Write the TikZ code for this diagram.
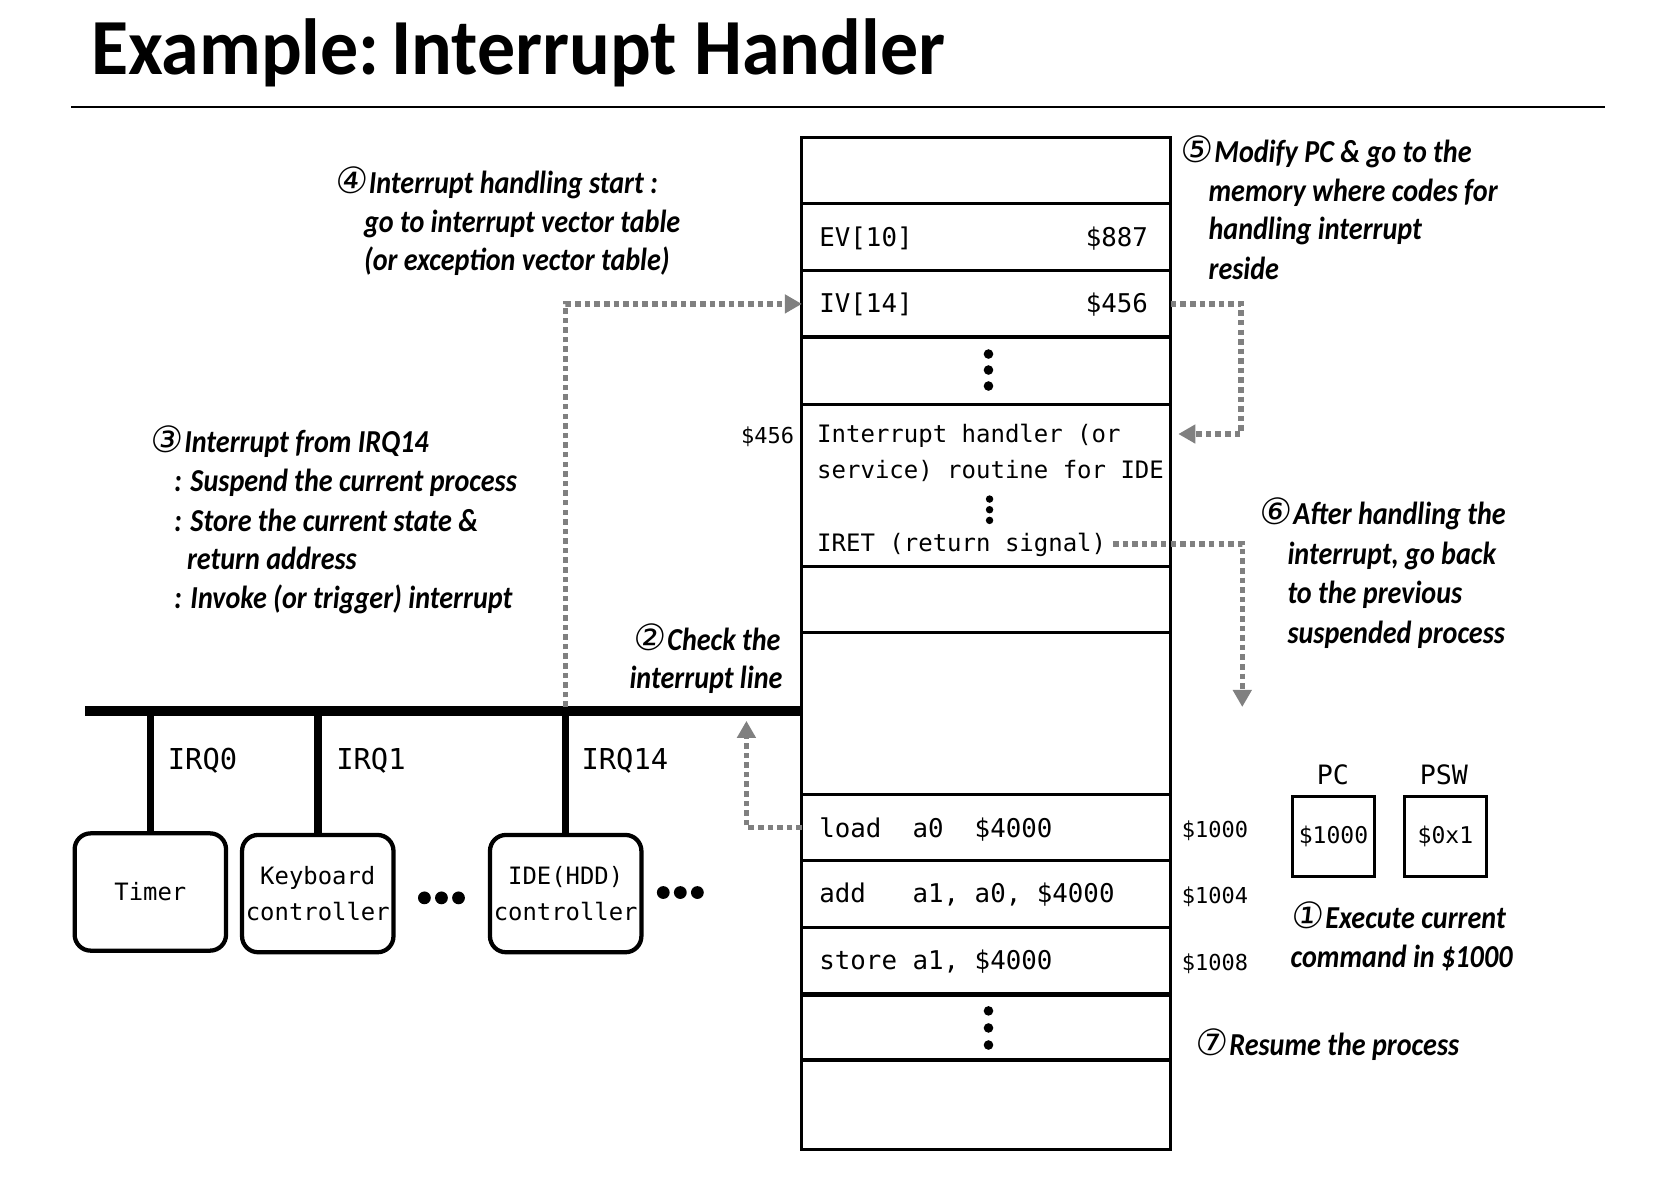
\documentclass[tikz,border=0pt]{standalone}
\usepackage{fontspec}
\usetikzlibrary{arrows.meta}
\setmainfont{Carlito}
\newfontfamily\annfont[FakeStretch=0.88]{Carlito}
\newfontfamily\titlefont[FakeStretch=0.955]{Carlito}
\newfontfamily\monofont{DejaVu Sans Mono}
\newfontfamily\circfont[FakeSlant=0.12]{DejaVu Sans}
\newcommand{\cn}[1]{{\circfont\mdseries\upshape\fontsize{17}{18}\selectfont #1}\kern1pt}
\definecolor{dgray}{RGB}{128,128,128}
\tikzset{
  ann/.style={font=\annfont\bfseries\itshape\fontsize{15}{18}\selectfont, anchor=base west, inner sep=0pt},
  memrow/.style={draw, line width=1.5pt, minimum width=173pt, anchor=north west, inner sep=0pt, outer sep=0pt},
  rowtxt/.style={font=\monofont\fontsize{12.1}{14}\selectfont, anchor=base west, inner sep=0pt},
  hdltxt/.style={font=\monofont\fontsize{11.25}{14}\selectfont, anchor=base west, inner sep=0pt},
  addr/.style={font=\monofont\fontsize{10.3}{12}\selectfont, inner sep=0pt},
  irq/.style={font=\monofont\fontsize{13.5}{16}\selectfont, anchor=base west, inner sep=0pt},
  dev/.style={draw, line width=2pt, rounded corners=7.5pt, minimum width=71pt, minimum height=55pt, inner sep=0pt, align=center, font=\monofont\fontsize{11.2}{17}\selectfont},
  reg/.style={draw, line width=1.5pt, minimum width=38.5pt, minimum height=37.5pt, inner sep=0pt, font=\monofont\fontsize{10.8}{12}\selectfont},
  bigdot/.style={circle, fill, minimum size=6pt, inner sep=0pt},
  vdot/.style={circle, fill, minimum size=4.5pt, inner sep=0pt},
  sdot/.style={circle, fill, minimum size=3.5pt, inner sep=0pt},
  flow/.style={draw=dgray, line width=2.6pt, dash pattern=on 2.6pt off 1.9pt, -{Triangle[length=8pt,width=8.5pt,fill=dgray]}},
  wire/.style={line width=3.5pt},
}
\begin{document}
\begin{tikzpicture}[x=0.5pt,y=-0.5pt]
\useasboundingbox (0,0) rectangle (1568,1116);
% title
\node[font=\titlefont\bfseries\fontsize{37.3}{40}\selectfont, anchor=base west, inner sep=0pt] (title) at (85,70) {Example:\kern-2.5pt\ Interrupt Handler};
\coordinate (ruleL) at (67,100);
\coordinate (ruleR) at (1505,100);
\draw[line width=1pt] (ruleL) -- (ruleR);

% memory
\node[memrow, minimum height=31pt] (m0) at (752,129) {};
\node[memrow, minimum height=31.5pt] (m1) at (752,191) {};
\node[memrow, minimum height=31pt] (m2) at (752,254) {};
\node[memrow, minimum height=31.5pt] (m3) at (752,316) {};
\node[memrow, minimum height=76pt] (m4) at (752,379) {};
\node[memrow, minimum height=31pt] (m5) at (752,531) {};
\node[memrow, minimum height=76pt] (m6) at (752,593) {};
\node[memrow, minimum height=31pt] (m7) at (752,745) {};
\node[memrow, minimum height=31.5pt] (m8) at (752,807) {};
\node[memrow, minimum height=31.5pt] (m9) at (752,870) {};
\node[memrow, minimum height=31pt] (m10) at (752,932) {};
\node[memrow, minimum height=42pt] (m11) at (752,994) {};

\node[rowtxt] (ev) at (768,231) {EV[10]};
\node[rowtxt, anchor=base east] (evv) at (1077,231) {\$887};
\node[rowtxt] (iv) at (768,293) {IV[14]};
\node[rowtxt, anchor=base east] (ivv) at (1077,293) {\$456};
\node[vdot] (d1) at (927,332) {};
\node[vdot] (d2) at (927,347) {};
\node[vdot] (d3) at (927,362) {};
\node[hdltxt] (h1) at (766,415) {Interrupt handler (or};
\node[hdltxt] (h2) at (766,449) {service) routine for IDE};
\node[sdot] (d4) at (928,468) {};
\node[sdot] (d5) at (928,478) {};
\node[sdot] (d6) at (928,488) {};
\node[hdltxt] (iret) at (766,517) {IRET (return signal)};
\node[rowtxt] (ld) at (768,785) {load\ \ a0\ \ \$4000};
\node[rowtxt] (ad) at (768,846) {add\ \ \ a1, a0, \$4000};
\node[rowtxt] (st) at (768,909) {store a1, \$4000};
\node[vdot] (d7) at (927,948) {};
\node[vdot] (d8) at (927,964) {};
\node[vdot] (d9) at (927,980) {};

\node[addr, anchor=base east] (a456) at (745,416) {\$456};
\node[addr, anchor=base west] (a1000) at (1108,785) {\$1000};
\node[addr, anchor=base west] (a1004) at (1108,847) {\$1004};
\node[addr, anchor=base west] (a1008) at (1108,910) {\$1008};

% bus and devices
\coordinate (busL) at (80,667);
\coordinate (busR) at (752,667);
\draw[line width=4.5pt] (busL) -- (busR);
\node[dev] (timer) at (141,836.5) {Timer};
\node[dev] (kbd) at (298,838) {Keyboard\\controller};
\node[dev] (ide) at (530.5,838) {IDE(HDD)\\controller};
\coordinate (t0) at (141,667);
\coordinate (t1) at (298,667);
\coordinate (t14) at (530.5,667);
\draw[wire] (t0) -- (timer.north);
\draw[wire] (t1) -- (kbd.north);
\draw[wire] (t14) -- (ide.north);
\node[irq] (irq0) at (157,722) {IRQ0};
\node[irq] (irq1) at (315,722) {IRQ1};
\node[irq] (irq14) at (545,722) {IRQ14};
\node[bigdot] (e1) at (398,842) {};
\node[bigdot] (e2) at (414,842) {};
\node[bigdot] (e3) at (430,842) {};
\node[bigdot] (e4) at (622,837) {};
\node[bigdot] (e5) at (638,837) {};
\node[bigdot] (e6) at (654,837) {};

% registers
\node[font=\monofont\fontsize{12.5}{14}\selectfont, inner sep=0pt] (pcl) at (1250,727) {PC};
\node[font=\monofont\fontsize{12.5}{14}\selectfont, inner sep=0pt] (pswl) at (1354,727) {PSW};
\node[reg] (pc) at (1250.5,784.5) {\$1000};
\node[reg] (psw) at (1355.5,784.5) {\$0x1};

% flows
\coordinate (busTap) at (530.5,663);
\draw[flow] (busTap) |- (m2.west);
\coordinate (hin) at (1105,407);
\draw[flow] (m2.east) -- ++(66,0) |- (hin);
\coordinate (down6) at (1165,663);
\draw[flow] ([xshift=3pt]iret.east |- 0,510) -| (down6);
\coordinate (up2) at (700,676);
\draw[flow] (m7.west) -| (up2);

% annotations
\node[ann] (n4a) at (313,181) {\cn{④}Interrupt handling start :};
\node[ann] (n4b) at (341,218) {go to interrupt vector table};
\node[ann] (n4c) at (341,254) {(or exception vector table)};

\node[ann] (n3a) at (140,424) {\cn{③}Interrupt from IRQ14};
\node[ann] (n3b) at (163,461) {: Suspend the current process};
\node[ann] (n3c) at (163,498) {: Store the current state \&};
\node[ann] (n3d) at (175,534) {return address};
\node[ann] (n3e) at (163,571) {: Invoke (or trigger) interrupt};

\node[ann] (n2a) at (593,610) {\cn{②}Check the};
\node[ann] (n2b) at (590,646) {interrupt line};

\node[ann] (n5a) at (1106,152) {\cn{⑤}Modify PC \& go to the};
\node[ann] (n5b) at (1133,189) {memory where codes for};
\node[ann] (n5c) at (1133,225) {handling interrupt};
\node[ann] (n5d) at (1133,262) {reside};

\node[ann] (n6a) at (1180,492) {\cn{⑥}After handling the};
\node[ann] (n6b) at (1207,529) {interrupt, go back};
\node[ann] (n6c) at (1207,566) {to the previous};
\node[ann] (n6d) at (1207,603) {suspended process};

\node[ann] (n1a) at (1210,871) {\cn{①}Execute current};
\node[ann] (n1b) at (1210,907) {command in \$1000};

\node[ann] (n7) at (1120,990) {\cn{⑦}Resume the process};
\end{tikzpicture}
\end{document}
